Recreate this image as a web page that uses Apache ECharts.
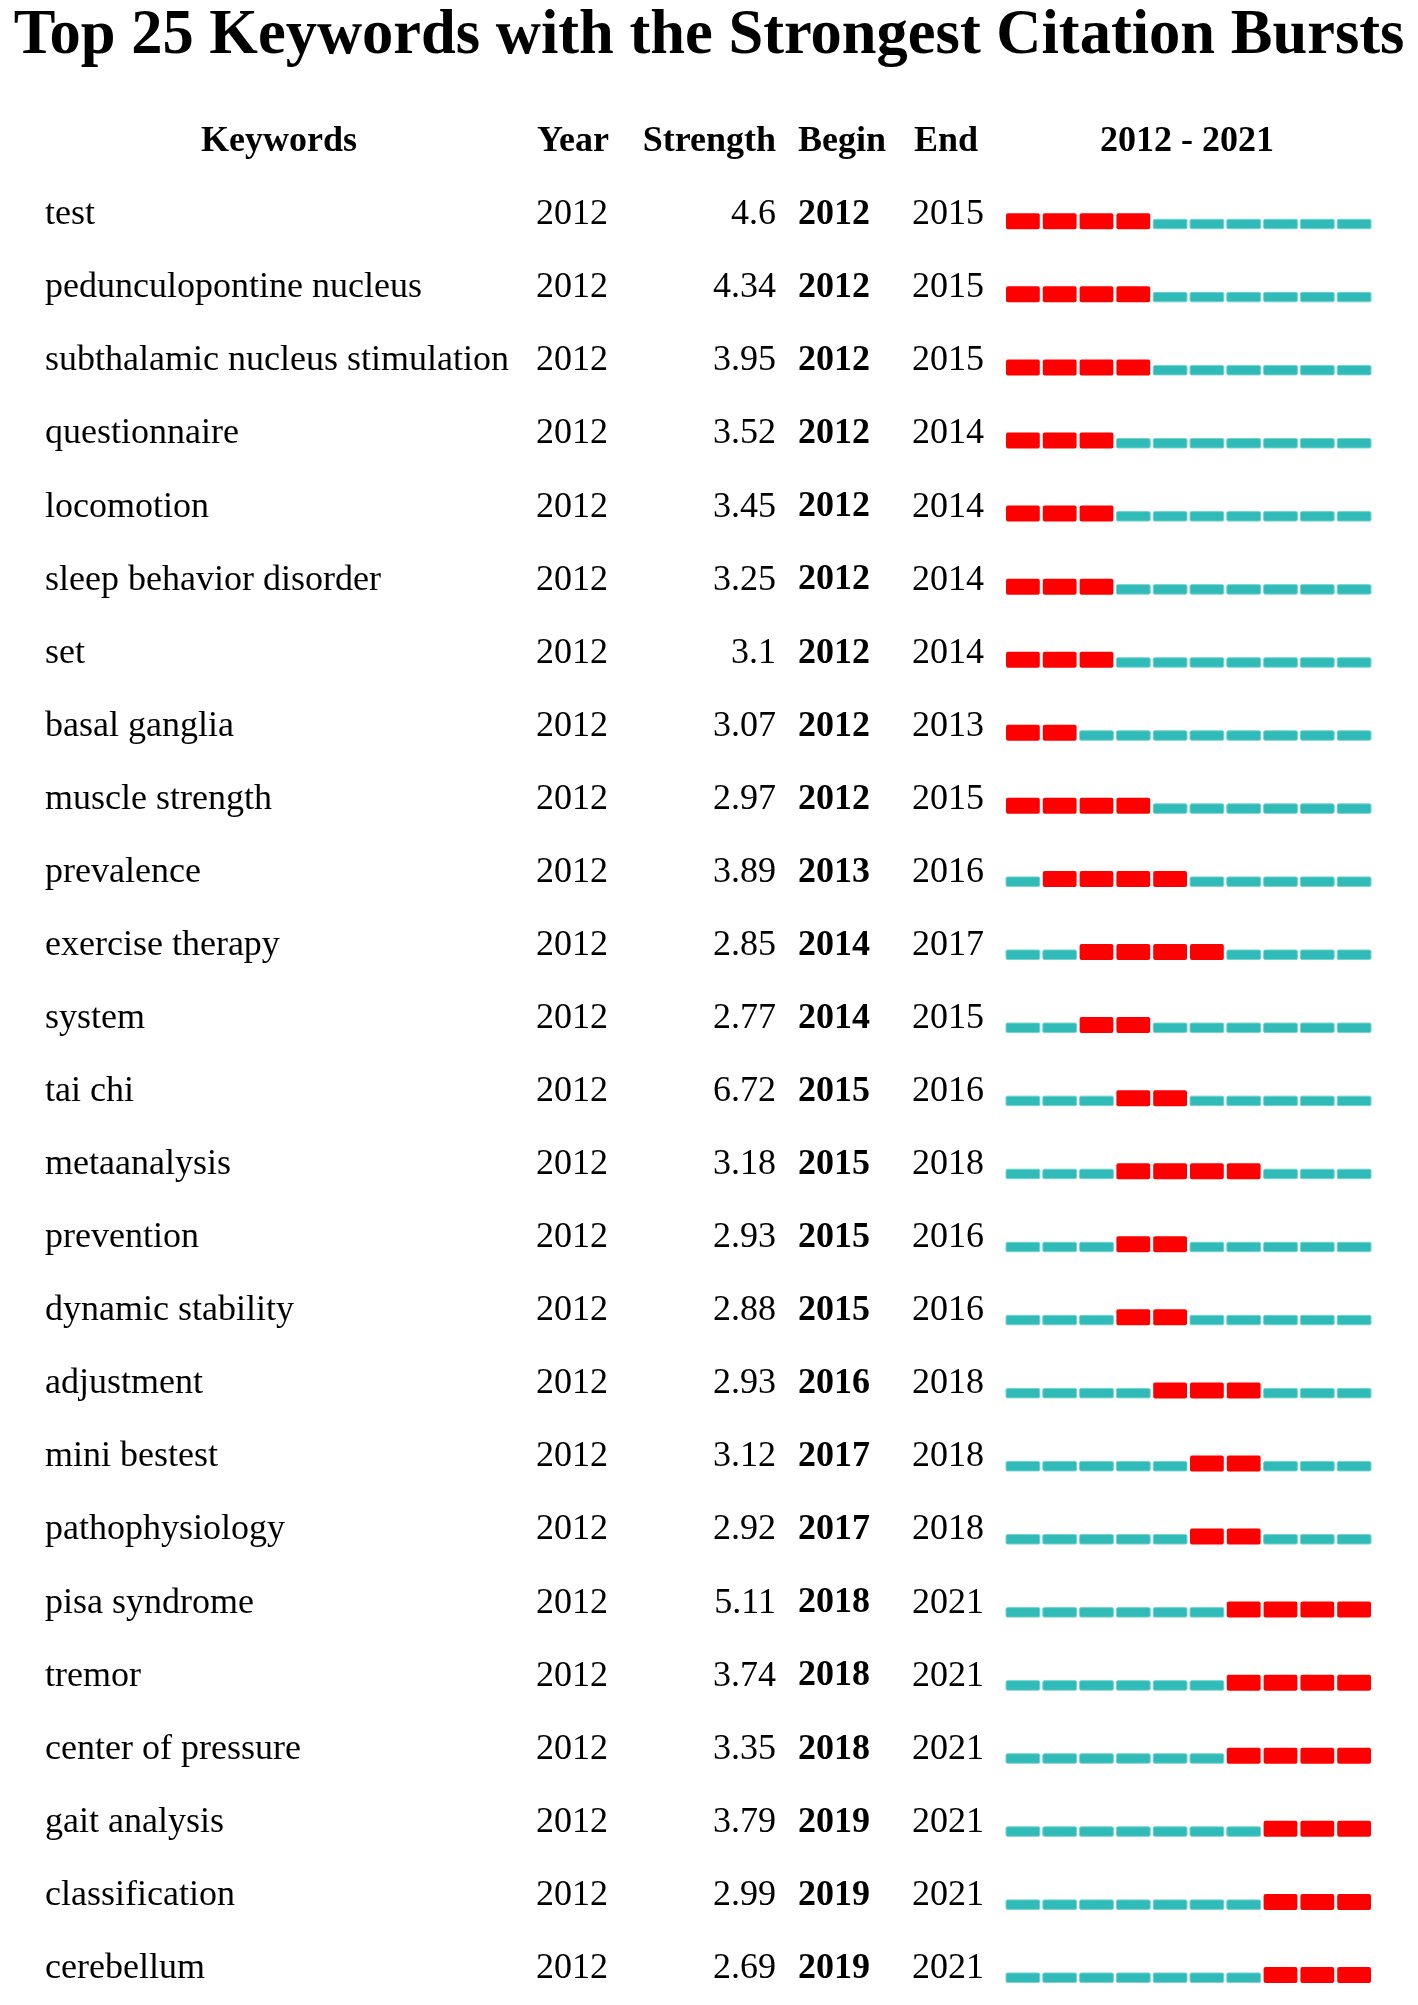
<!DOCTYPE html>
<html>
<head>
<meta charset="utf-8">
<script src="https://cdn.jsdelivr.net/npm/echarts@6/dist/echarts.min.js"></script>
<style>
html,body{margin:0;padding:0;background:#fff;}
#chart{width:1418px;height:2005px;}
</style>
</head>
<body>
<div id="chart"></div>
<script>
var keywords = ["test","pedunculopontine nucleus","subthalamic nucleus stimulation","questionnaire","locomotion","sleep behavior disorder","set","basal ganglia","muscle strength","prevalence","exercise therapy","system","tai chi","metaanalysis","prevention","dynamic stability","adjustment","mini bestest","pathophysiology","pisa syndrome","tremor","center of pressure","gait analysis","classification","cerebellum"];
var years = [2012,2012,2012,2012,2012,2012,2012,2012,2012,2012,2012,2012,2012,2012,2012,2012,2012,2012,2012,2012,2012,2012,2012,2012,2012];
var strengths = ["4.6","4.34","3.95","3.52","3.45","3.25","3.1","3.07","2.97","3.89","2.85","2.77","6.72","3.18","2.93","2.88","2.93","3.12","2.92","5.11","3.74","3.35","3.79","2.99","2.69"];
var begins = [2012,2012,2012,2012,2012,2012,2012,2012,2012,2013,2014,2014,2015,2015,2015,2015,2016,2017,2017,2018,2018,2018,2019,2019,2019];
var ends = [2015,2015,2015,2014,2014,2014,2014,2013,2015,2016,2017,2015,2016,2018,2016,2016,2018,2018,2018,2021,2021,2021,2021,2021,2021];
var rangeStart = 2012, rangeEnd = 2021;
var headers = ["Keywords","Year","Strength","Begin","End","2012 - 2021"];
var titleText = "Top 25 Keywords with the Strongest Citation Bursts";

var FONT = "'Liberation Serif','Times New Roman',serif";
var RED = "#FF0000", TEAL = "#30BBB8";

var chart = echarts.init(document.getElementById('chart'), null, {renderer:'canvas'});

function labelAxis(fmt, margin, align, weight){
  return {
    type:'category', inverse:true, data:keywords, gridIndex:0, position:'left',
    axisLine:{show:false}, axisTick:{show:false}, splitLine:{show:false},
    axisLabel:{
      interval:0, margin:margin, align:align, formatter:fmt,
      fontFamily:FONT, fontSize:36, fontWeight:weight, color:'#000'
    }
  };
}

var data = keywords.map(function(k,i){ return [begins[i], i, ends[i]]; });

var option = {
  backgroundColor:'#fff',
  animation:false,
  grid:{left:1006, width:368, top:178.25, height:1837.5},
  xAxis:{type:'value', min:rangeStart, max:rangeEnd+1, show:false},
  yAxis:[
    labelAxis(function(v,i){return keywords[i];}, 961, 'left', 'normal'),
    labelAxis(function(v,i){return String(years[i]);}, 470, 'left', 'normal'),
    labelAxis(function(v,i){return strengths[i];}, 230, 'right', 'normal'),
    labelAxis(function(v,i){return String(begins[i]);}, 208, 'left', 'bold'),
    labelAxis(function(v,i){return String(ends[i]);}, 94, 'left', 'normal')
  ],
  graphic:[
    {type:'text', left:'center', top:5, style:{text:titleText, font:"bold 62.5px "+FONT, fill:'#000'}},
    {type:'text', x:279, y:142, style:{text:headers[0], font:"bold 36px "+FONT, fill:'#000', align:'center', verticalAlign:'middle'}},
    {type:'text', x:537, y:142, style:{text:headers[1], font:"bold 36px "+FONT, fill:'#000', align:'left', verticalAlign:'middle'}},
    {type:'text', x:776, y:142, style:{text:headers[2], font:"bold 36px "+FONT, fill:'#000', align:'right', verticalAlign:'middle'}},
    {type:'text', x:798, y:142, style:{text:headers[3], font:"bold 36px "+FONT, fill:'#000', align:'left', verticalAlign:'middle'}},
    {type:'text', x:914, y:142, style:{text:headers[4], font:"bold 36px "+FONT, fill:'#000', align:'left', verticalAlign:'middle'}},
    {type:'text', x:1187, y:142, style:{text:headers[5], font:"bold 36px "+FONT, fill:'#000', align:'center', verticalAlign:'middle'}}
  ],
  series:[{
    type:'custom', xAxisIndex:0, yAxisIndex:0, clip:false,
    encode:{x:0, y:1},
    data:data,
    renderItem:function(params, api){
      var b = api.value(0), idx = api.value(1), e = api.value(2);
      var children = [];
      for (var y = rangeStart; y <= rangeEnd; y++){
        var p0 = api.coord([y, idx]);
        var p1 = api.coord([y+1, idx]);
        var c = p0[1];
        var x0 = p0[0], w = p1[0] - p0[0] - 3;
        if (y >= b && y <= e){
          children.push({type:'rect', shape:{x:x0, y:c-1.5, width:w, height:16, r:2}, style:{fill:RED}});
        } else {
          children.push({type:'rect', shape:{x:x0, y:c+4.5, width:w, height:9.5, r:1.5}, style:{fill:TEAL, stroke:'#74D3D0', lineWidth:1}});
        }
      }
      return {type:'group', children:children};
    }
  }]
};
chart.setOption(option);
</script>
</body>
</html>
